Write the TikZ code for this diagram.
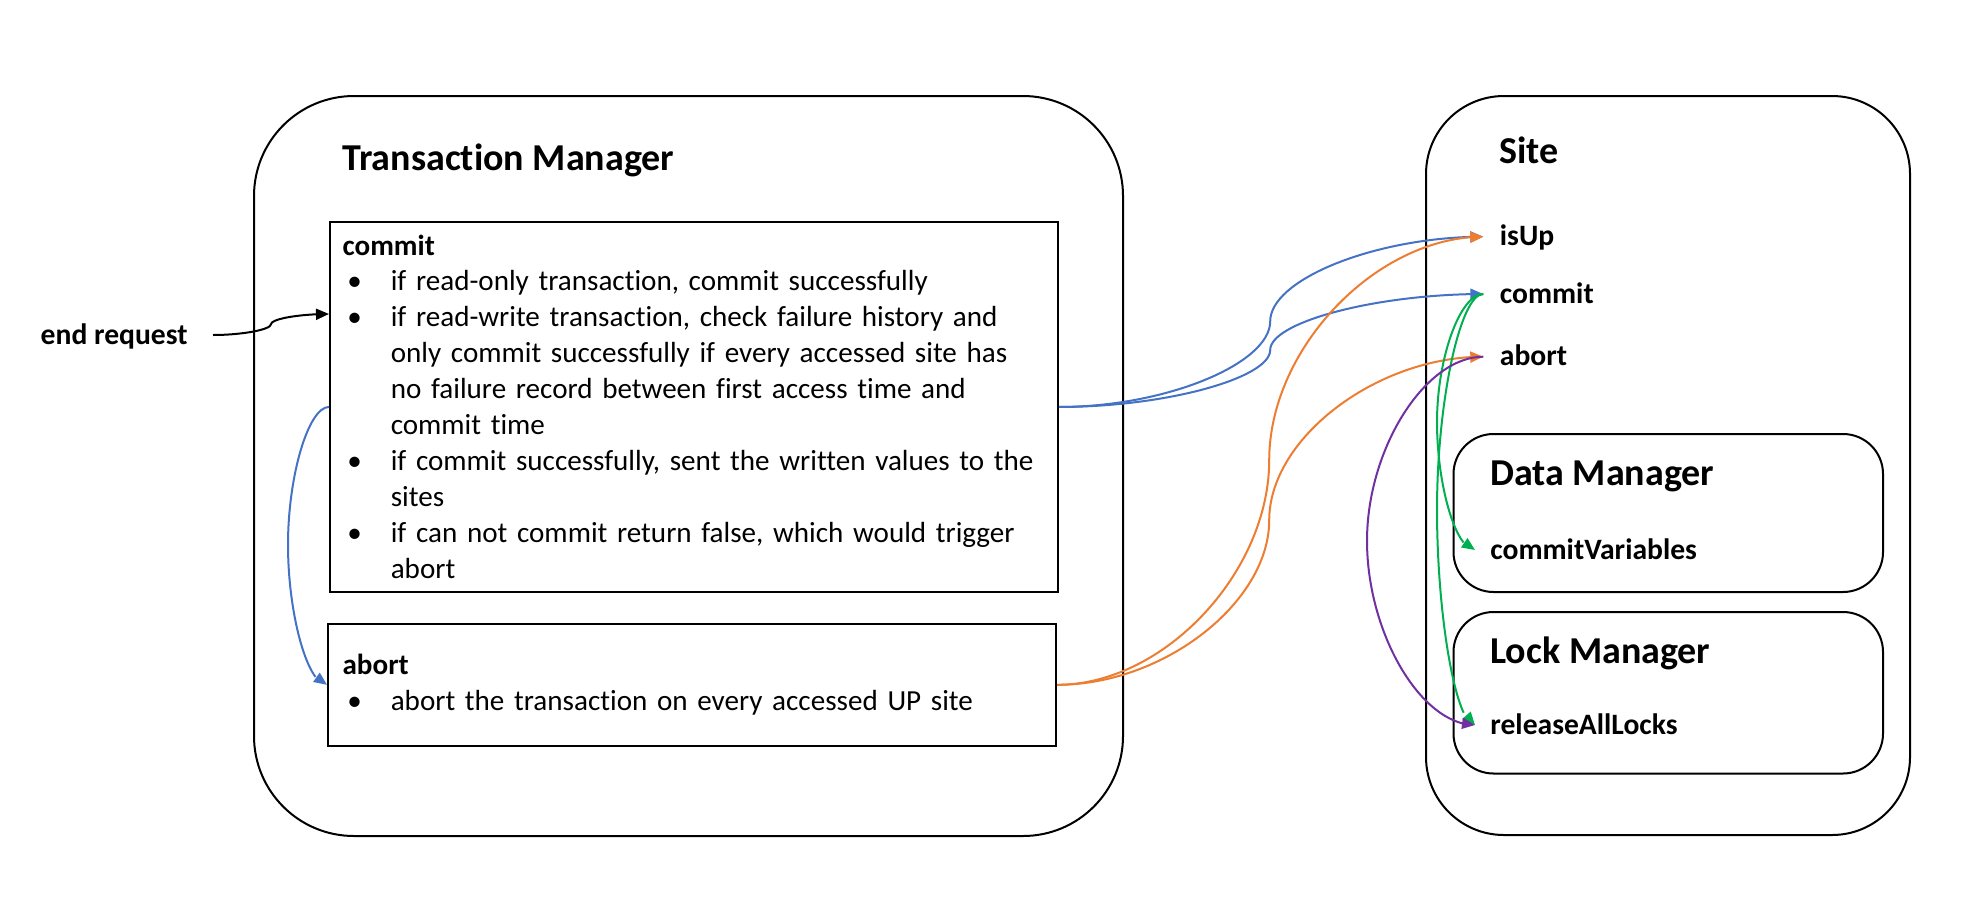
\documentclass[tikz,border=0pt]{standalone}
\usepackage{fontspec}
\setmainfont{Carlito}[Ligatures=NoCommon, WordSpace=0.75]
\newfontfamily\headfont{Carlito}[Ligatures=NoCommon]
\usepackage{tikz}
\usetikzlibrary{arrows.meta,bending,calc}

\definecolor{tmblue}{RGB}{68,114,196}
\definecolor{tmorange}{RGB}{237,125,49}
\definecolor{tmgreen}{RGB}{0,176,80}
\definecolor{tmpurple}{RGB}{112,48,160}

\newcommand{\fbody}{\fontsize{14.55}{17.95}\selectfont}
\newcommand{\flabel}{\headfont\fontsize{14.8}{17.95}\selectfont\bfseries}
\newcommand{\ftitle}{\headfont\fontsize{19}{23}\selectfont\bfseries}
\newcommand{\bul}{\hspace*{2.4pt}\makebox[21.7pt][l]{\textbullet}}
\newcommand{\ind}{\hspace*{24.1pt}}

\tikzset{
  roundbox/.style={draw, line width=1pt, rounded corners=#1, inner sep=0pt, anchor=north west},
  listbox/.style={draw, line width=1.1pt, inner sep=0pt, anchor=north west},
  boxtitle/.style={anchor=base west, inner sep=0pt, font=\ftitle},
  listtext/.style={anchor=base west, inner sep=0pt, text width=420pt, align=left, font=\fbody},
  fname/.style={anchor=west, inner xsep=8.1pt, inner ysep=0pt, text height=9pt, text depth=0pt, font=\flabel},
  conn/.style={line width=1pt, -{Triangle[length=6.5pt,width=5.5pt]}},
}

\begin{document}
\begin{tikzpicture}[x=0.5pt,y=0.5pt,yscale=-1,xscale=1]
\useasboundingbox (0,0) rectangle (1968,900);

%Rounded Rect
\draw (253,95) node [roundbox=50pt, minimum width=434.5pt, minimum height=370pt] (tm) {};
%Rounded Rect
\draw (1425,95) node [roundbox=39pt, minimum width=242pt, minimum height=369.5pt] (site) {};
%Rounded Rect
\draw (1452.5,433) node [roundbox=20pt, minimum width=214.75pt, minimum height=79pt] (dm) {};
%Rounded Rect
\draw (1452.5,611) node [roundbox=20pt, minimum width=214.75pt, minimum height=80.75pt] (lm) {};
%Shape: Rectangle
\draw (329,221) node [listbox, minimum width=364pt, minimum height=184.85pt] (cbox) {};
%Shape: Rectangle
\draw (327,622.7) node [listbox, minimum width=364pt, minimum height=61pt] (abox) {};

% Text Node
\draw (342,170) node [boxtitle] (tmtitle) {Transaction Manager};
% Text Node
\draw (1499,163) node [boxtitle] (sitetitle) {Site};
% Text Node
\draw (1490,485.5) node [boxtitle] (dmtitle) {Data Manager};
% Text Node
\draw (1490,663) node [boxtitle] (lmtitle) {Lock Manager};
% Text Node
\draw (342.2,255) node [listtext] (ctext) {\textbf{commit}\\
\bul if read-only transaction, commit successfully\\
\bul if read-write transaction, check failure history and\\
\ind only commit successfully if every accessed site has\\
\ind no failure record between first access time and\\
\ind commit time\\
\bul if commit successfully, sent the written values to the\\
\ind sites\\
\bul if can not commit return false, which would trigger\\
\ind abort};
% Text Node
\draw (342.2,674.5) node [listtext] (atext) {\textbf{abort}\\
\bul abort the transaction on every accessed UP site};
% Text Node
\draw (213,335) node [fname, anchor=east, inner xsep=12.5pt] (endreq) {end request};
% Text Node
\draw (1483.3,236.7) node [fname] (isup) {isUp};
% Text Node
\draw (1483.3,294) node [fname] (scommit) {commit};
% Text Node
\draw (1483.3,356.7) node [fname] (sabort) {abort};
% Text Node
\draw (1475,550) node [fname, inner xsep=7.5pt] (cvar) {commitVariables};
% Text Node
\draw (1475,725) node [fname, inner xsep=7.5pt] (rlocks) {releaseAllLocks};

\coordinate (cin) at ($(cbox.north west)!.25!(cbox.south west)$);
\coordinate (mreq) at (271,324.2);
\coordinate (mdown) at (288,544.8);
\coordinate (mb1) at (1270.2,321.3);
\coordinate (mb2) at (1270.2,350);
\coordinate (mo1) at (1269.2,460.2);
\coordinate (mo2) at (1269.2,520.2);
\coordinate (mg1) at (1437,422);
\coordinate (mg2) at (1437,509.5);
\coordinate (mp) at (1367,540.9);

%Curve Lines
\draw [conn] (endreq.east) .. controls +(29,0) and +(0,5.4) .. (mreq) .. controls +(0,-5.4) and +(-29,0) .. (cin);
%Curve Lines
\draw [conn, tmblue] (cbox.west) .. controls +(-20.5,0) and +(0,-69.4) .. (mdown) .. controls +(0,69.4) and +(-19.5,0) .. (abox.west);
%Curve Lines
\draw [conn, tmblue] (cbox.east) .. controls +(106.6,0) and +(0,42.3) .. (mb1) .. controls +(0,-42.3) and +(-106.6,0) .. (isup.west);
%Curve Lines
\draw [conn, tmblue] (cbox.east) .. controls +(106.6,0) and +(0,28) .. (mb2) .. controls +(0,-28) and +(-106.6,0) .. (scommit.west);
%Curve Lines
\draw [conn, tmorange] (abox.east) .. controls +(107.1,0) and +(0,111.75) .. (mo1) .. controls +(0,-111.75) and +(-107.1,0) .. (isup.west);
%Curve Lines
\draw [conn, tmorange] (abox.east) .. controls +(107.1,0) and +(0,81.75) .. (mo2) .. controls +(0,-81.75) and +(-107.1,0) .. (sabort.west);
%Curve Lines
\draw [conn, tmgreen] (scommit.west) .. controls +(-23.2,0) and +(0,-64) .. (mg1) .. controls +(0,64) and +(-19,0) .. (cvar.west);
%Curve Lines
\draw [conn, tmgreen] (scommit.west) .. controls +(-23.2,0) and +(0,-107.8) .. (mg2) .. controls +(0,107.8) and +(-19,0) .. (rlocks.west);
%Curve Lines
\draw [conn, tmpurple] (sabort.west) .. controls +(-58.2,0) and +(0,-92.1) .. (mp) .. controls +(0,92.1) and +(-54,0) .. (rlocks.west);

\end{tikzpicture}
\end{document}
